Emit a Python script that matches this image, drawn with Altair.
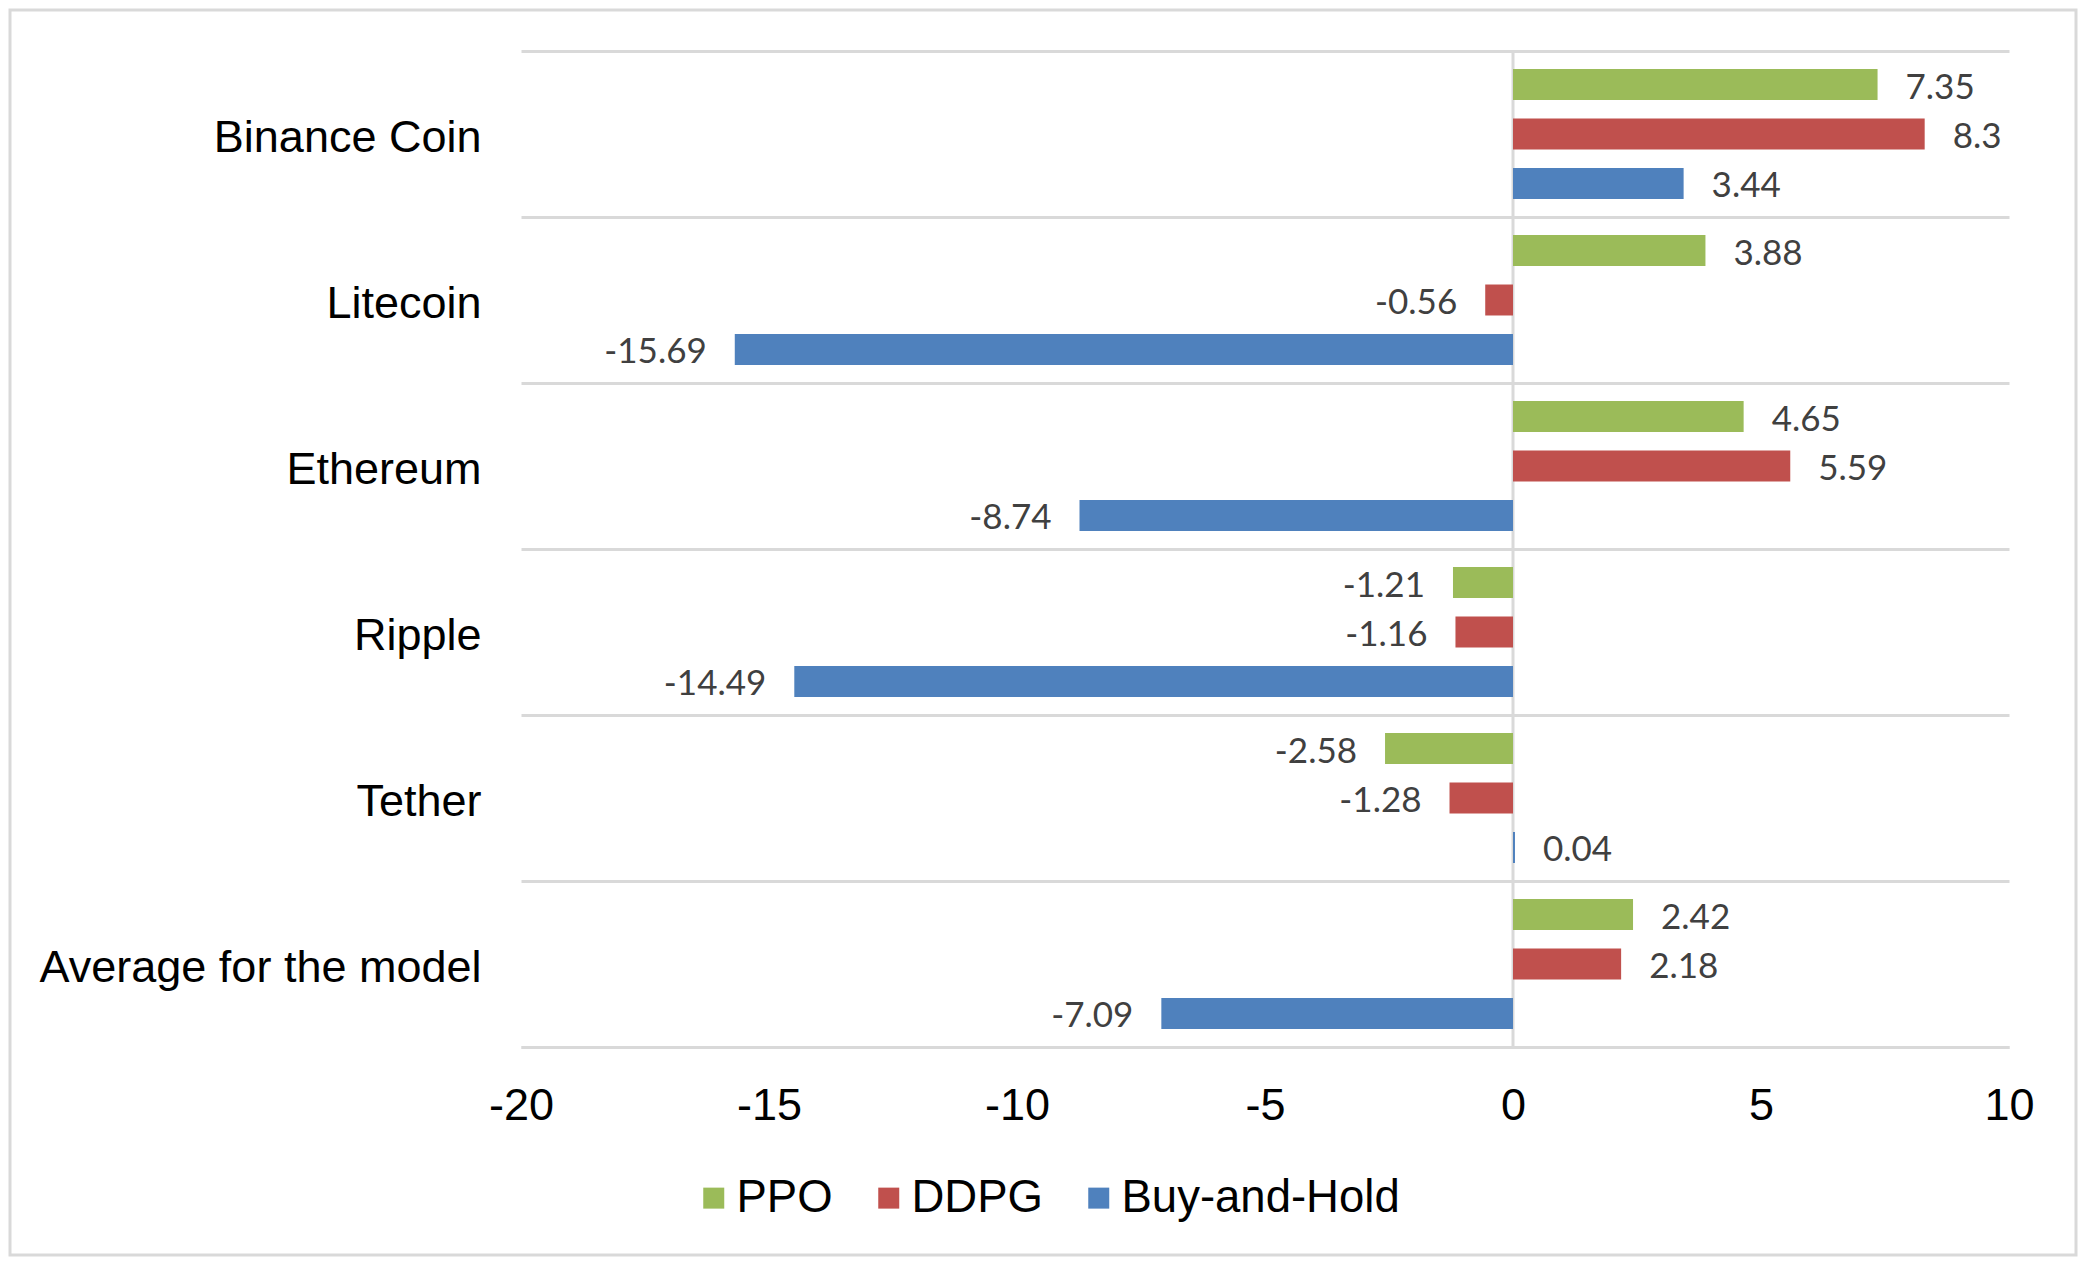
import altair as alt
import pandas as pd

categories = ["Binance Coin", "Litecoin", "Ethereum", "Ripple", "Tether", "Average for the model"]
series = ["PPO", "DDPG", "Buy-and-Hold"]
ppo = [7.35, 3.88, 4.65, -1.21, -2.58, 2.42]
ddpg = [8.3, -0.56, 5.59, -1.16, -1.28, 2.18]
bah = [3.44, -15.69, -8.74, -14.49, 0.04, -7.09]
x_ticks = [-20, -15, -10, -5, 0, 5, 10]
colors = ["#9BBB59", "#C0504D", "#4F81BD"]

rows = []
for s, vals in zip(series, [ppo, ddpg, bah]):
    for c, v in zip(categories, vals):
        rows.append({"category": c, "series": s, "value": v, "label": str(v)})
df = pd.DataFrame(rows)

AX_FONT = "Liberation Sans"
VAL_FONT = "Lato"
GRID = "#d9d9d9"

W, H = 1488, 996

x_enc = alt.X("value:Q",
              scale=alt.Scale(domain=[-20, 10], nice=False, zero=False),
              axis=alt.Axis(values=x_ticks, title=None, grid=False, ticks=False,
                            domainColor=GRID, domainWidth=3,
                            labelFont=AX_FONT, labelFontSize=45, labelColor="black",
                            labelPadding=36, labelFlush=False, labelOverlap=False,
                            labelExpr="'' + datum.value"))
y_enc = alt.Y("category:N", sort=categories,
              scale=alt.Scale(paddingInner=0, paddingOuter=0),
              axis=alt.Axis(title=None, ticks=False, domain=False, grid=True,
                            gridColor=GRID, gridWidth=3, tickBand="extent",
                            labelFont=AX_FONT, labelFontSize=45, labelColor="black",
                            labelPadding=40, labelLimit=700, labelOffset=3))
yoff = alt.YOffset("series:N", sort=series,
                   scale=alt.Scale(paddingInner=0.374, paddingOuter=0.364))

base = alt.Chart(df)

zero_rule = alt.Chart(pd.DataFrame({"v": [0]})).mark_rule(color=GRID, strokeWidth=3).encode(
    x=alt.X("v:Q"))

bars = base.mark_bar().encode(
    x=x_enc, y=y_enc, yOffset=yoff,
    color=alt.Color("series:N", scale=alt.Scale(domain=series, range=colors),
                    legend=alt.Legend(orient="none", legendX=170, legendY=1124,
                                      direction="horizontal", title=None,
                                      symbolType="square", symbolSize=441,
                                      symbolStrokeWidth=0,
                                      labelFont=AX_FONT, labelFontSize=45.5,
                                      labelColor="black", labelOffset=0,
                                      columnPadding=33, labelLimit=600)))

pos_labels = base.transform_filter("datum.value >= 0").mark_text(
    align="left", baseline="middle", dx=28, dy=3, font=VAL_FONT, fontSize=35, color="#404040"
).encode(x="value:Q", y=alt.Y("category:N", sort=categories), yOffset=yoff, text="label:N")

neg_labels = base.transform_filter("datum.value < 0").mark_text(
    align="right", baseline="middle", dx=-28, dy=3, font=VAL_FONT, fontSize=35, color="#404040"
).encode(x="value:Q", y=alt.Y("category:N", sort=categories), yOffset=yoff, text="label:N")

frame = alt.Chart(pd.DataFrame({"a": [0]})).mark_rect(
    fill="transparent", stroke=GRID, strokeWidth=3, clip=False
).encode(x=alt.value(-511), x2=alt.value(W + 67), y=alt.value(-41), y2=alt.value(H + 208))

chart = alt.layer(zero_rule, bars, pos_labels, neg_labels, frame).properties(
    width=W, height=H,
    autosize=alt.AutoSizeParams(type="none"),
    padding={"left": 513, "top": 43, "right": 69, "bottom": 210},
    background="white",
).configure_view(strokeWidth=0)

chart.save("out.html", embed_options={"renderer": "svg", "actions": False})
